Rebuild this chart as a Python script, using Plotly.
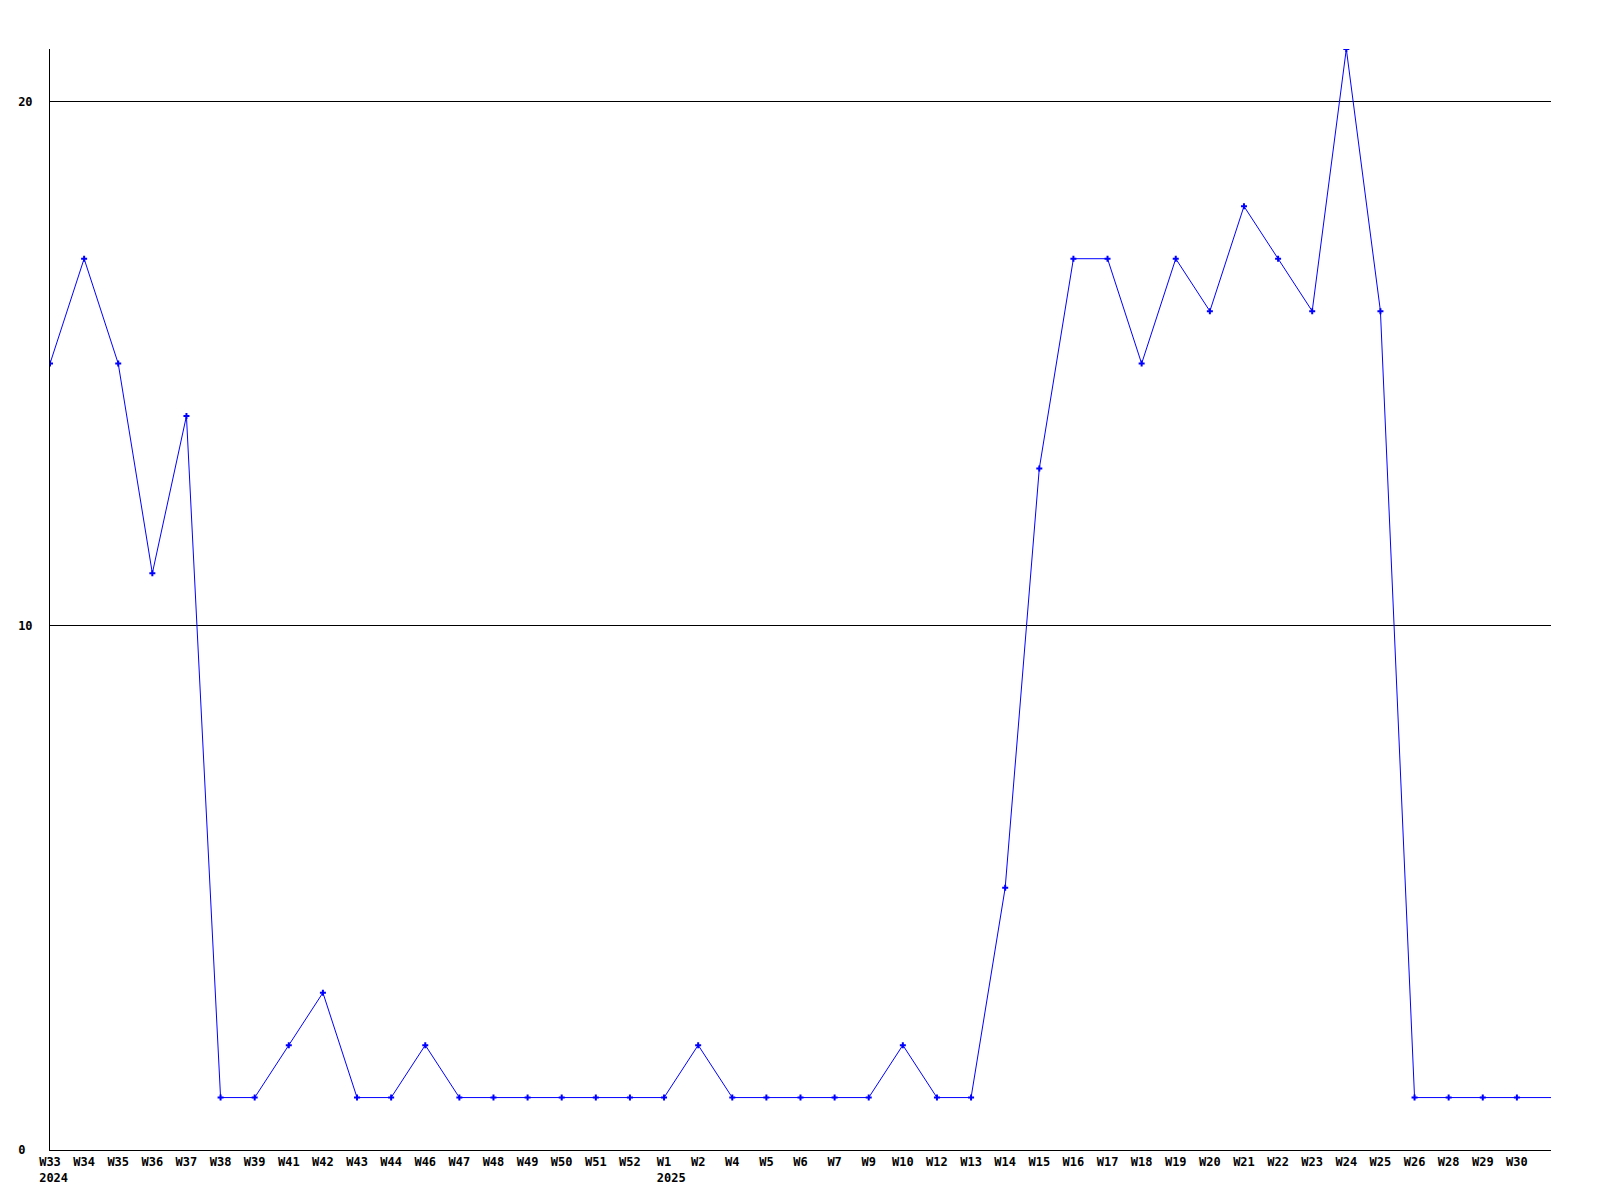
import plotly.graph_objects as go

weeks = ["W33", "W34", "W35", "W36", "W37", "W38", "W39", "W41", "W42", "W43", "W44",
         "W46", "W47", "W48", "W49", "W50", "W51", "W52", "W1", "W2", "W4", "W5", "W6",
         "W7", "W9", "W10", "W12", "W13", "W14", "W15", "W16", "W17", "W18", "W19", "W20",
         "W21", "W22", "W23", "W24", "W25", "W26", "W28", "W29", "W30"]
years = {"W33": "2024", "W1": "2025"}
values = [15, 17, 15, 11, 14, 1, 1, 2, 3, 1, 1,
          2, 1, 1, 1, 1, 1, 1, 1, 2, 1, 1, 1,
          1, 1, 2, 1, 1, 5, 13, 17, 17, 15, 17, 16,
          18, 17, 16, 21, 16, 1, 1, 1, 1]
# line continues to the right edge of the plot at the last value
tail_value = 1
y_ticks = [0, 10, 20]

NB = "\u00a0"
xs = list(range(len(weeks)))
ticktext = []
for w in weeks:
    if w in years:
        yr = years[w]
        ticktext.append(w + "<br>" + NB * (len(yr) - len(w)) + yr)
    else:
        ticktext.append(w)

tfont = dict(family="DejaVu Sans Mono", size=12, color="black", weight="bold")

fig = go.Figure()
fig.add_trace(go.Scatter(
    x=xs + [len(weeks)], y=values + [tail_value], mode="lines",
    line=dict(color="#0000ff", width=1), hoverinfo="skip", showlegend=False))
fig.add_trace(go.Scatter(
    x=xs, y=values, mode="markers",
    marker=dict(symbol="cross", size=5, color="#0000ff", line=dict(width=0)),
    showlegend=False))

fig.update_layout(
    width=1600, height=1200,
    margin=dict(l=42, r=57, t=41, b=58),
    paper_bgcolor="white", plot_bgcolor="white",
    font=dict(family="DejaVu Sans Mono", size=12, color="black"),
    xaxis=dict(
        range=[0, len(weeks)], tickmode="array", tickvals=xs, ticktext=ticktext,
        showgrid=False, zeroline=False, showline=True, linecolor="black", linewidth=1,
        ticks="", tickangle=0, tickfont=tfont, ticklabelstandoff=1, automargin=False,
    ),
    yaxis=dict(
        range=[0, 21], tickmode="array", tickvals=y_ticks,
        ticktext=[str(v) + NB * (2 - len(str(v))) for v in y_ticks],
        showgrid=True, gridcolor="black", gridwidth=1, zeroline=False,
        showline=True, linecolor="black", linewidth=1, ticks="",
        tickfont=tfont, ticklabelstandoff=14, automargin=False,
    ),
)

fig.write_html("out.html")
